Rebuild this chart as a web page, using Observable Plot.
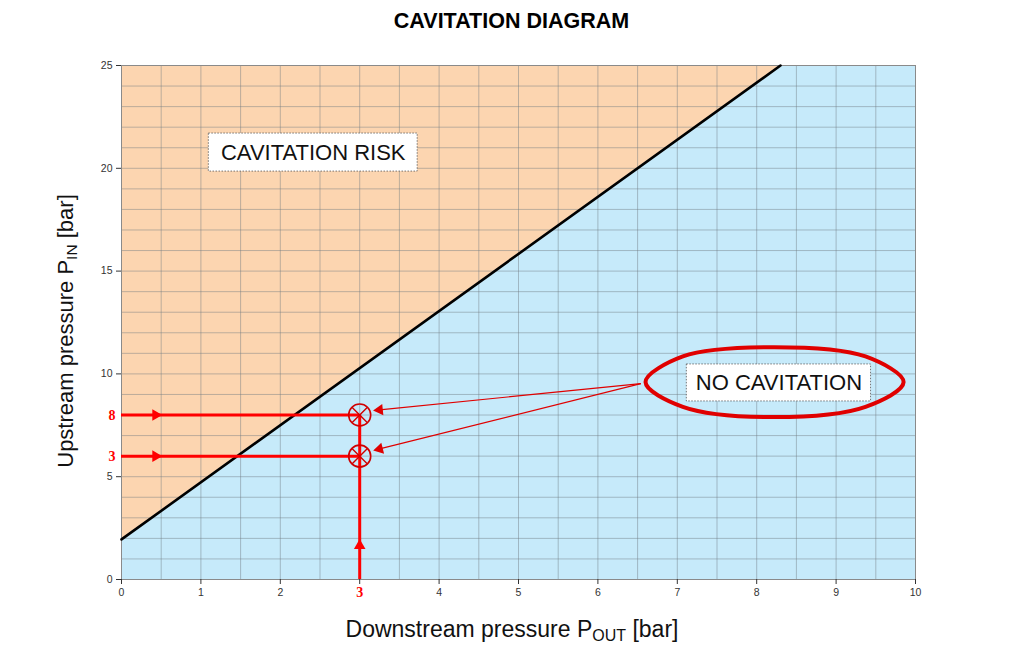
<!DOCTYPE html>
<html><head><meta charset="utf-8">
<script src="https://cdn.jsdelivr.net/npm/d3@7"></script>
<script src="https://cdn.jsdelivr.net/npm/@observablehq/plot@0.6"></script>
<style>
body{margin:0;background:#fff;font-family:"Liberation Sans",Arial,sans-serif;}
#title{height:40px;line-height:42px;text-align:center;font-weight:bold;font-size:21.5px;color:#000;}
#chart svg{display:block;}
</style></head><body>
<div id="title">CAVITATION DIAGRAM</div>
<div id="chart"></div>
<script>
// ---- data ----
const limitPout = [0, 8.3];          // downstream pressure on cavitation limit line
const limitPin  = [1.95, 25];        // upstream pressure on cavitation limit line
const xTickValues = [0,1,2,3,4,5,6,7,8,9,10];
const yTickValues = [0,5,10,15,20,25];
const examplePout = 3;
const examplePoutLabel = "3";
const examplePin = [8, 6];
const examplePinLabels = ["8", "3"];
const arrowHeadAtPout = 0.43;        // arrowheads on horizontal guide lines
const arrowHeadAtPin = 1.65;         // arrowhead on vertical guide line
const calloutFrom = {x: 6.54, y: 9.53};
const calloutTips = [{x: 3.25, y: 8.25}, {x: 3.25, y: 6.35}];
const ellipseX = [6.60, 7.07, 8.22, 9.37, 9.85, 9.37, 8.22, 7.07];
const ellipseY = [9.60, 10.85, 11.30, 10.85, 9.60, 8.40, 7.90, 8.40];
const boxLabels = ["CAVITATION RISK", "NO CAVITATION"];
const boxX1 = [1.10, 7.12];
const boxX2 = [3.73, 9.44];
const boxY1 = [19.84, 8.66];
const boxY2 = [21.69, 10.46];

// ---- layout ----
const W = 1023, H = 611, ML = 121, MR = 108, MT = 25, MB = 72;
const px = x => ML + x / 10 * (W - ML - MR);
const py = y => MT + (25 - y) / 25 * (H - MT - MB);

const limit = limitPout.map((x, i) => ({x, y: limitPin[i]}));
const boxes = boxLabels.map((t, i) => ({t, x1: boxX1[i], x2: boxX2[i], y1: boxY1[i], y2: boxY2[i]}));
const ellipse = ellipseX.map((x, i) => ({x, y: ellipseY[i]}));
const callouts = calloutTips.map(t => {
  const dx = px(t.x) - px(calloutFrom.x), dy = py(t.y) - py(calloutFrom.y);
  const rot = Math.atan2(dx, -dy) * 180 / Math.PI;
  return {x1: calloutFrom.x, y1: calloutFrom.y, x2: t.x, y2: t.y, rot};
});
const examples = examplePin.map((y, i) => ({y, label: examplePinLabels[i]}));

const RED = "#ff0000";
const plot = Plot.plot({
  width: W, height: H,
  marginLeft: ML, marginRight: MR, marginTop: MT, marginBottom: MB,
  style: {fontFamily: "Liberation Sans, Arial, sans-serif", background: "#fff"},
  x: {domain: [0, 10]},
  y: {domain: [0, 25]},
  marks: [
    Plot.frame({fill: "#c6eafa"}),
    Plot.areaY(limit, {x: "x", y1: "y", y2: () => 25, fill: "#fcd5b0"}),
    Plot.gridX({ticks: d3.range(0, 10.01, 0.5), stroke: "#6e7a80", strokeOpacity: 0.45}),
    Plot.gridY({ticks: d3.range(0, 25.01, 1), stroke: "#6e7a80", strokeOpacity: 0.45}),
    Plot.frame({stroke: "#8a8a8a"}),
    Plot.axisX({ticks: xTickValues, tickSize: 5, tickPadding: 4, fontSize: 10.5, color: "#333",
      tickFormat: d => d === examplePout ? "" : d, label: null}),
    Plot.axisY({ticks: yTickValues, tickSize: 5, tickPadding: 4, fontSize: 10.5, color: "#333", label: null}),
    Plot.line(limit, {x: "x", y: "y", stroke: "#000", strokeWidth: 2.6}),
    Plot.ruleY(examples, {y: "y", x1: () => 0, x2: () => examplePout, stroke: RED, strokeWidth: 3}),
    Plot.ruleX([examplePout], {x: d => d, y1: () => 0, y2: () => examplePin[0], stroke: RED, strokeWidth: 3}),
    Plot.dot(examples, {x: () => arrowHeadAtPout, y: "y", symbol: "triangle", rotate: 90, r: 4.3, fill: RED, stroke: "none"}),
    Plot.dot([examplePout], {x: d => d, y: () => arrowHeadAtPin, symbol: "triangle", r: 4.3, fill: RED, stroke: "none"}),
    Plot.dot(examples, {x: () => examplePout, y: "y", r: 11, stroke: "#d00000", strokeWidth: 1.6, fill: "none"}),
    Plot.dot(examples, {x: () => examplePout, y: "y", r: 7.1, symbol: "times", stroke: "#d00000", strokeWidth: 1.4}),
    Plot.link(callouts, {x1: "x1", y1: "y1", x2: "x2", y2: "y2", stroke: "#e00000", strokeWidth: 1.2}),
    Plot.dot(callouts, {x: "x2", y: "y2", symbol: "triangle", rotate: "rot", r: 4.2, fill: "#e00000", stroke: "none"}),
    Plot.rect(boxes, {x1: "x1", x2: "x2", y1: "y1", y2: "y2", fill: "#fff", stroke: "#555", strokeWidth: 0.8, strokeDasharray: "1.5,1.5"}),
    Plot.text(boxes, {x: d => (d.x1 + d.x2) / 2, y: d => (d.y1 + d.y2) / 2, text: "t", fontSize: 22, fill: "#111"}),
    Plot.line(ellipse, {x: "x", y: "y", curve: "catmull-rom-closed", stroke: "#e00000", strokeWidth: 4}),
    Plot.text(examples, {y: "y", text: "label", frameAnchor: "left", dx: -6, textAnchor: "end",
      fill: RED, fontSize: 14, fontWeight: "bold", fontFamily: "Liberation Serif, serif"}),
    Plot.text([examplePoutLabel], {x: () => examplePout, text: d => d, frameAnchor: "bottom", dy: 17,
      fill: RED, fontSize: 14, fontWeight: "bold", fontFamily: "Liberation Serif, serif"})
  ]
});
document.getElementById("chart").appendChild(plot);

// axis titles with subscripts
const svg = d3.select(plot);
const xl = svg.append("text").attr("x", 512).attr("y", 597).attr("text-anchor", "middle")
  .attr("font-size", 23).attr("fill", "#111").attr("font-family", "Liberation Sans, Arial, sans-serif");
xl.append("tspan").text("Downstream pressure P");
xl.append("tspan").attr("font-size", 16).attr("dy", 4).text("OUT");
xl.append("tspan").attr("dy", -4).text(" [bar]");
const yl = svg.append("text").attr("transform", "translate(73,291) rotate(-90)").attr("text-anchor", "middle")
  .attr("font-size", 22).attr("fill", "#111").attr("font-family", "Liberation Sans, Arial, sans-serif");
yl.append("tspan").text("Upstream pressure P");
yl.append("tspan").attr("font-size", 15.5).attr("dy", 4).text("IN");
yl.append("tspan").attr("dy", -4).text(" [bar]");
</script></body></html>
